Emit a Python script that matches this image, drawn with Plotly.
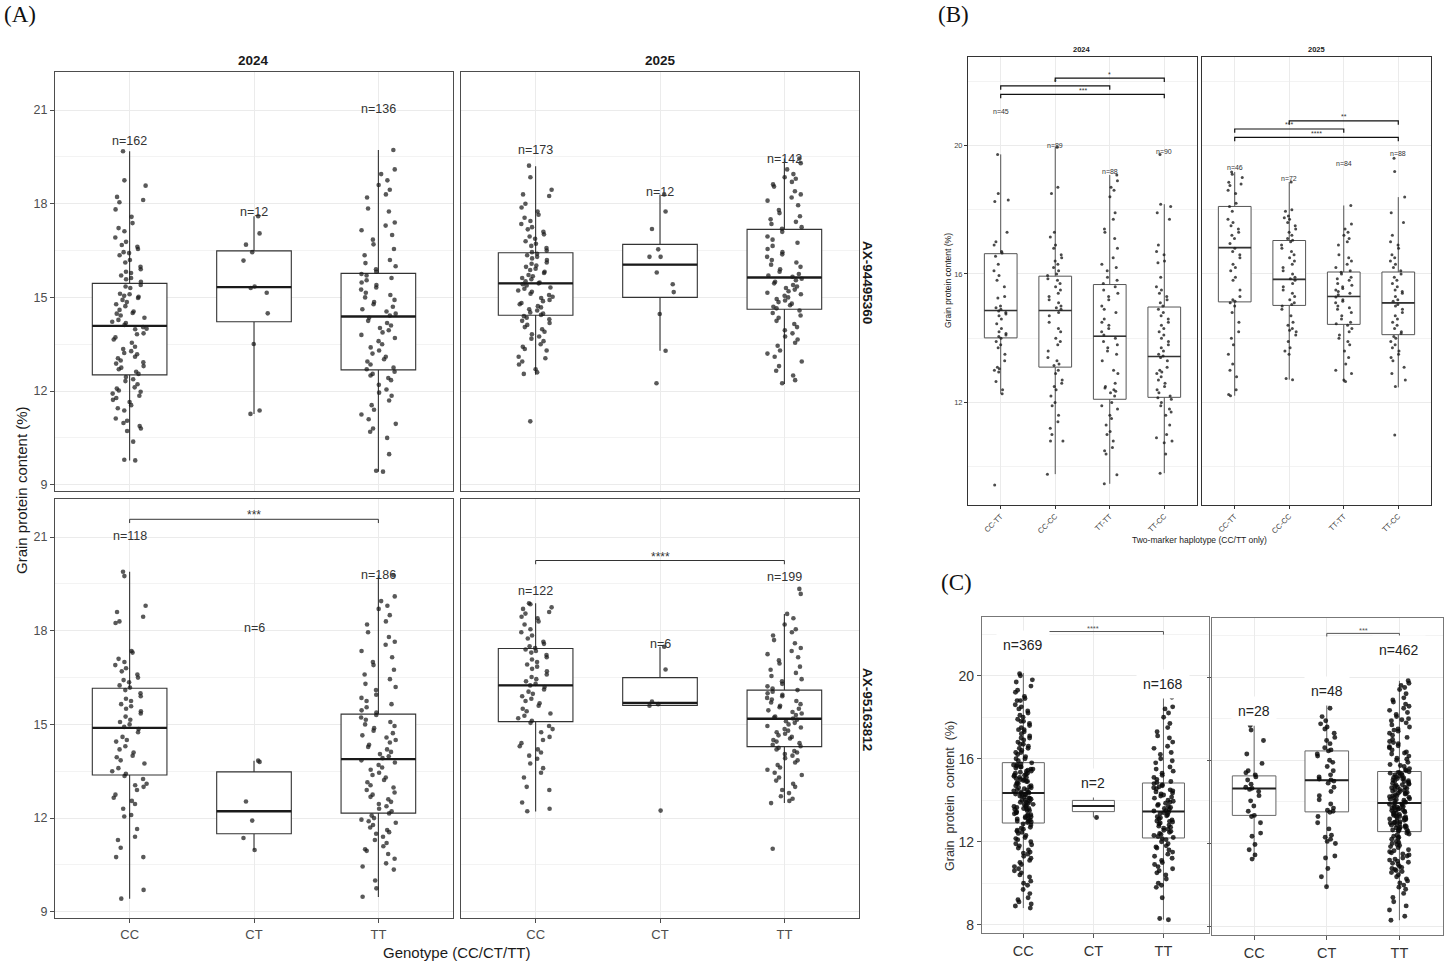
import plotly.graph_objects as go

# ======================= DATA =======================
# ---------- Panel A : single markers, genotype classes ----------
A_genotypes = ["CC", "CT", "TT"]
A_years = ["2024", "2025"]
A_markers = ["AX-94495360", "AX-95163812"]

# AX-94495360 / 2024
A1_24_q1 = [12.52, 14.22, 12.68]
A1_24_med = [14.09, 15.33, 14.39]
A1_24_q3 = [15.45, 16.49, 15.77]
A1_24_lo = [9.78, 11.27, 9.42]
A1_24_hi = [19.68, 17.60, 19.72]
A1_24_n = [162, 12, 136]
A1_24_label_y = [20.0, 17.75, 21.05]
A1_24_CC = [19.68, 18.75, 18.58, 18.22, 18.12, 18.05, 17.82, 17.58, 17.38, 17.22, 17.12, 16.92, 16.78, 16.68,
            16.62, 16.55, 16.45, 16.42, 16.35, 16.2, 16.12, 15.98, 15.9, 15.82, 15.78, 15.7, 15.62, 15.58, 15.5,
            15.4, 15.35, 15.3, 15.12, 15.1, 15.05, 15.02, 14.98, 14.92, 14.85, 14.78, 14.72, 14.6, 14.55, 14.5,
            14.48, 14.42, 14.35, 14.28, 14.22, 14.18, 14.12, 14.05, 14.0, 13.98, 13.85, 13.82, 13.72, 13.65,
            13.55, 13.42, 13.35, 13.28, 13.22, 13.18, 13.1, 13.05, 12.98, 12.92, 12.88, 12.8, 12.75, 12.7, 12.62,
            12.55, 12.45, 12.38, 12.32, 12.22, 12.12, 12.08, 12.02, 11.98, 11.92, 11.85, 11.78, 11.72, 11.65,
            11.55, 11.45, 11.38, 11.12, 11.05, 10.98, 10.88, 10.8, 10.72, 10.38, 9.8, 9.78]
A1_24_CT = [17.6, 17.05, 16.69, 16.45, 16.18, 15.35, 15.3, 15.15, 14.49, 13.51, 11.38, 11.27]
A1_24_TT = [19.72, 19.1, 18.95, 18.75, 18.6, 18.45, 18.3, 18.2, 17.85, 17.75, 17.4, 17.3, 17.15, 17.0, 16.85,
            16.7, 16.55, 16.35, 16.2, 16.1, 16.0, 15.9, 15.82, 15.75, 15.7, 15.62, 15.55, 15.48, 15.4, 15.32,
            15.25, 15.15, 15.08, 15.0, 14.92, 14.85, 14.78, 14.7, 14.62, 14.55, 14.48, 14.42, 14.35, 14.25,
            14.18, 14.1, 14.02, 13.95, 13.88, 13.8, 13.7, 13.6, 13.5, 13.4, 13.3, 13.2, 13.1, 13.02, 12.95,
            12.85, 12.75, 12.7, 12.62, 12.55, 12.5, 12.42, 12.35, 12.2, 12.05, 11.95, 11.85, 11.7, 11.55, 11.4,
            11.25, 11.1, 10.95, 10.8, 10.7, 10.5, 9.98, 9.45, 9.42]

# AX-94495360 / 2025
A1_25_q1 = [14.43, 15.00, 14.62]
A1_25_med = [15.45, 16.05, 15.64]
A1_25_q3 = [16.43, 16.70, 17.18]
A1_25_lo = [12.52, 13.29, 12.23]
A1_25_hi = [19.20, 18.30, 19.45]
A1_25_n = [173, 12, 142]
A1_25_label_y = [19.72, 18.39, 19.43]
A1_25_CC = [19.22, 18.85, 18.45, 18.3, 18.25, 18.0, 17.88, 17.75, 17.65, 17.55, 17.45, 17.35, 17.25, 17.18,
            17.1, 17.02, 16.95, 16.88, 16.8, 16.72, 16.65, 16.58, 16.5, 16.45, 16.4, 16.35, 16.3, 16.25, 16.2,
            16.12, 16.08, 16.02, 15.98, 15.92, 15.88, 15.82, 15.78, 15.72, 15.68, 15.62, 15.58, 15.52, 15.48,
            15.45, 15.42, 15.38, 15.32, 15.28, 15.22, 15.18, 15.12, 15.08, 15.02, 14.98, 14.92, 14.88, 14.82,
            14.78, 14.72, 14.68, 14.62, 14.58, 14.52, 14.48, 14.44, 14.4, 14.35, 14.3, 14.25, 14.18, 14.12,
            14.05, 13.98, 13.9, 13.82, 13.75, 13.68, 13.6, 13.5, 13.42, 13.35, 13.3, 13.1, 13.05, 12.95, 12.85,
            12.7, 12.6, 12.55, 11.03]
A1_25_CT = [18.3, 17.75, 17.19, 16.54, 16.3, 16.3, 15.8, 15.42, 15.17, 14.47, 13.29, 12.25]
A1_25_TT = [19.45, 19.3, 19.1, 18.95, 18.85, 18.8, 18.7, 18.62, 18.55, 18.4, 18.3, 18.2, 18.1, 17.95, 17.8,
            17.7, 17.6, 17.5, 17.42, 17.35, 17.25, 17.2, 17.1, 16.95, 16.85, 16.75, 16.65, 16.55, 16.45, 16.38,
            16.3, 16.2, 16.12, 16.05, 15.98, 15.9, 15.82, 15.75, 15.7, 15.66, 15.6, 15.55, 15.5, 15.45, 15.4,
            15.35, 15.3, 15.25, 15.2, 15.15, 15.1, 15.05, 15.0, 14.95, 14.9, 14.85, 14.8, 14.75, 14.7, 14.65,
            14.58, 14.5, 14.42, 14.35, 14.25, 14.15, 14.05, 13.95, 13.85, 13.75, 13.65, 13.55, 13.45, 13.3,
            13.2, 13.1, 12.95, 12.8, 12.65, 12.5, 12.35, 12.25]

# AX-95163812 / 2024
A2_24_q1 = [13.38, 11.50, 12.16]
A2_24_med = [14.89, 12.22, 13.89]
A2_24_q3 = [16.16, 13.48, 15.33]
A2_24_lo = [9.42, 10.98, 9.47]
A2_24_hi = [19.89, 13.84, 19.78]
A2_24_n = [118, 6, 186]
A2_24_label_y = [21.03, 18.1, 19.78]
A2_24_CC = [19.89, 19.75, 18.8, 18.6, 18.45, 18.3, 18.25, 17.35, 17.3, 17.1, 17.0, 16.9, 16.8, 16.7, 16.6,
            16.5, 16.42, 16.35, 16.25, 16.18, 16.1, 16.0, 15.9, 15.82, 15.75, 15.65, 15.58, 15.5, 15.42, 15.35,
            15.25, 15.15, 15.08, 15.0, 14.92, 14.85, 14.75, 14.6, 14.5, 14.45, 14.3, 14.2, 14.1, 14.0, 13.95,
            13.85, 13.75, 13.6, 13.5, 13.42, 13.35, 13.25, 13.1, 13.05, 13.0, 12.9, 12.75, 12.65, 12.55, 12.45,
            12.3, 12.1, 12.05, 11.65, 11.4, 11.3, 11.05, 10.75, 10.75, 9.7, 9.42]
A2_24_CT = [13.84, 13.8, 12.53, 11.92, 11.36, 10.98]
A2_24_TT = [19.78, 19.1, 18.95, 18.8, 18.7, 18.5, 18.3, 18.2, 17.95, 17.8, 17.65, 17.55, 17.35, 17.15, 17.0,
            16.9, 16.75, 16.6, 16.45, 16.3, 16.2, 16.1, 15.95, 15.85, 15.75, 15.65, 15.55, 15.45, 15.38, 15.3,
            15.22, 15.15, 15.08, 15.0, 14.95, 14.88, 14.8, 14.72, 14.65, 14.58, 14.5, 14.42, 14.35, 14.28,
            14.2, 14.12, 14.05, 13.98, 13.92, 13.85, 13.78, 13.7, 13.62, 13.55, 13.45, 13.38, 13.3, 13.22,
            13.15, 13.05, 12.98, 12.9, 12.82, 12.75, 12.68, 12.6, 12.52, 12.45, 12.38, 12.3, 12.22, 12.15,
            12.08, 12.0, 11.95, 11.9, 11.85, 11.78, 11.7, 11.62, 11.55, 11.5, 11.4, 11.3, 11.2, 11.1, 11.0,
            10.95, 10.85, 10.7, 10.55, 10.45, 10.35, 10.0, 9.75, 9.48]

# AX-95163812 / 2025
A2_25_q1 = [15.09, 15.61, 14.29]
A2_25_med = [16.25, 15.69, 15.18]
A2_25_q3 = [17.43, 16.50, 16.10]
A2_25_lo = [12.21, 15.60, 12.48]
A2_25_hi = [18.88, 17.49, 18.54]
A2_25_n = [122, 6, 199]
A2_25_label_y = [19.28, 17.58, 19.71]
A2_25_CC = [18.88, 18.85, 18.75, 18.7, 18.6, 18.55, 18.45, 18.4, 18.3, 18.2, 18.05, 17.95, 17.85, 17.75,
            17.65, 17.58, 17.5, 17.45, 17.4, 17.35, 17.3, 17.22, 17.15, 17.08, 17.0, 16.92, 16.85, 16.78, 16.7,
            16.6, 16.52, 16.45, 16.38, 16.3, 16.25, 16.2, 16.12, 16.05, 15.98, 15.9, 15.82, 15.75, 15.68, 15.6,
            15.5, 15.42, 15.35, 15.28, 15.2, 15.12, 15.05, 14.95, 14.85, 14.75, 14.6, 14.5, 14.4, 14.3, 14.2,
            14.1, 14.0, 13.9, 13.75, 13.6, 13.45, 13.3, 13.0, 12.9, 12.5, 12.3, 12.22]
A2_25_CT = [17.49, 16.76, 15.73, 15.65, 15.6, 12.24]
A2_25_TT = [19.34, 19.18, 18.54, 18.4, 18.2, 18.05, 17.95, 17.85, 17.7, 17.6, 17.45, 17.35, 17.25, 17.15,
            17.05, 16.95, 16.85, 16.75, 16.65, 16.55, 16.45, 16.38, 16.3, 16.22, 16.15, 16.1, 16.05, 16.0,
            15.95, 15.9, 15.85, 15.8, 15.75, 15.7, 15.65, 15.6, 15.55, 15.5, 15.45, 15.4, 15.35, 15.3, 15.25,
            15.22, 15.19, 15.15, 15.1, 15.05, 15.0, 14.95, 14.9, 14.85, 14.8, 14.75, 14.7, 14.65, 14.6, 14.55,
            14.5, 14.45, 14.4, 14.35, 14.3, 14.25, 14.2, 14.15, 14.1, 14.05, 14.0, 13.92, 13.85, 13.78, 13.7,
            13.62, 13.55, 13.45, 13.38, 13.3, 13.2, 13.1, 13.0, 12.9, 12.8, 12.7, 12.62, 12.55, 12.48, 11.02]

A2_24_brackets = [(1, 3, 21.57, "***")]
A2_25_brackets = [(1, 3, 20.25, "****")]

# ---------- Panel B : two-marker haplotypes ----------
B_haplotypes = ["CC-TT", "CC-CC", "TT-TT", "TT-CC"]
B_years = ["2024", "2025"]

B_24_q1 = [14.01, 13.10, 12.10, 12.16]
B_24_med = [14.86, 14.86, 14.06, 13.43]
B_24_q3 = [16.63, 15.93, 15.67, 14.97]
B_24_lo = [12.27, 9.77, 9.47, 9.80]
B_24_hi = [19.72, 19.94, 19.08, 18.17]
B_24_n = [45, 89, 88, 90]
B_24_label_y = [21.06, 20.0, 19.19, 19.8]
B_24_CCTT = [19.72, 18.5, 18.3, 18.25, 17.3, 17.0, 16.9, 16.7, 16.65, 16.55, 16.3, 16.1, 15.95, 15.8, 15.6,
             15.3, 15.25, 15.0, 14.95, 14.9, 14.85, 14.8, 14.75, 14.7, 14.6, 14.45, 14.3, 14.2, 14.15, 14.1,
             14.05, 14.0, 13.9, 13.8, 13.7, 13.5, 13.3, 13.1, 13.05, 13.0, 12.95, 12.65, 12.4, 12.27, 9.43]
B_24_CCCC = [19.94, 18.7, 18.5, 17.3, 17.15, 16.9, 16.8, 16.6, 16.5, 16.4, 16.3, 16.2, 16.1, 16.0, 15.95,
             15.85, 15.8, 15.7, 15.6, 15.5, 15.4, 15.3, 15.2, 15.1, 15.0, 14.95, 14.9, 14.8, 14.7, 14.5, 14.3,
             14.2, 14.0, 13.9, 13.8, 13.6, 13.4, 13.3, 13.2, 13.15, 13.0, 12.9, 12.7, 12.6, 12.5, 12.4, 12.2,
             12.0, 11.9, 11.6, 11.4, 11.2, 11.0, 10.8, 10.8, 9.77]
B_24_TTTT = [19.08, 18.9, 18.7, 18.6, 18.4, 17.9, 17.7, 17.4, 17.3, 17.1, 16.8, 16.5, 16.3, 16.2, 16.1, 15.9,
             15.8, 15.7, 15.6, 15.5, 15.4, 15.3, 15.2, 15.0, 14.9, 14.8, 14.6, 14.5, 14.4, 14.3, 14.2, 14.1,
             14.0, 13.9, 13.8, 13.7, 13.6, 13.5, 13.3, 13.0, 12.9, 12.6, 12.5, 12.45, 12.4, 12.35, 12.3, 12.2,
             12.0, 11.9, 11.8, 11.6, 11.5, 11.3, 11.1, 11.0, 10.8, 10.6, 10.5, 10.4, 9.75, 9.47]
B_24_TTCC = [19.72, 18.17, 18.1, 17.9, 17.7, 16.9, 16.7, 16.6, 16.4, 16.35, 15.9, 15.6, 15.5, 15.4, 15.3,
             15.2, 15.1, 15.0, 14.9, 14.8, 14.7, 14.6, 14.5, 14.4, 14.3, 14.2, 14.1, 14.0, 13.9, 13.8, 13.7,
             13.6, 13.5, 13.45, 13.4, 13.3, 13.1, 13.0, 12.95, 12.9, 12.8, 12.7, 12.6, 12.5, 12.4, 12.3, 12.2,
             12.15, 12.1, 12.0, 11.9, 11.8, 11.7, 11.6, 11.3, 11.0, 10.9, 10.8, 10.75, 10.4, 9.8]

B_25_q1 = [15.13, 15.02, 14.43, 14.11]
B_25_med = [16.82, 15.83, 15.30, 15.10]
B_25_q3 = [18.10, 17.04, 16.06, 16.06]
B_25_lo = [12.21, 12.71, 12.63, 12.47]
B_25_hi = [19.17, 18.86, 18.13, 18.39]
B_25_n = [46, 72, 84, 88]
B_25_label_y = [19.32, 18.97, 19.43, 19.74]
B_25_CCTT = [19.17, 19.1, 19.0, 18.85, 18.8, 18.75, 18.6, 18.5, 18.2, 18.1, 17.95, 17.7, 17.6, 17.5, 17.4,
             17.3, 17.2, 17.1, 16.95, 16.8, 16.7, 16.6, 16.5, 16.3, 16.2, 16.1, 15.9, 15.8, 15.5, 15.3, 15.2,
             15.15, 15.1, 15.0, 14.8, 14.5, 14.2, 14.0, 13.8, 13.5, 13.2, 13.0, 12.8, 12.4, 12.25, 12.21]
B_25_CCCC = [18.86, 18.0, 17.95, 17.8, 17.75, 17.7, 17.6, 17.5, 17.4, 17.3, 17.2, 17.1, 17.05, 17.0, 16.9,
             16.8, 16.7, 16.6, 16.5, 16.4, 16.3, 16.2, 16.1, 16.0, 15.9, 15.85, 15.8, 15.7, 15.6, 15.5, 15.4,
             15.3, 15.2, 15.1, 15.05, 15.0, 14.9, 14.7, 14.5, 14.4, 14.3, 14.25, 14.2, 14.1, 13.9, 13.7, 13.6,
             13.5, 12.75, 12.71]
B_25_TTTT = [18.13, 17.55, 17.4, 17.3, 17.2, 17.1, 17.0, 16.9, 16.6, 16.5, 16.4, 16.3, 16.2, 16.1, 16.05,
             16.0, 15.9, 15.85, 15.8, 15.7, 15.65, 15.6, 15.55, 15.5, 15.45, 15.4, 15.35, 15.28, 15.2, 15.15,
             15.1, 15.0, 14.95, 14.9, 14.8, 14.7, 14.6, 14.5, 14.45, 14.4, 14.3, 14.2, 14.1, 14.0, 13.9, 13.8,
             13.6, 13.4, 13.2, 13.0, 12.9, 12.7, 12.65]
B_25_TTCC = [19.6, 19.19, 18.39, 17.9, 17.6, 17.2, 17.0, 16.9, 16.8, 16.6, 16.5, 16.4, 16.3, 16.2, 16.1,
             16.0, 15.9, 15.8, 15.7, 15.6, 15.5, 15.45, 15.4, 15.3, 15.2, 15.15, 15.05, 15.0, 14.9, 14.8, 14.7,
             14.6, 14.5, 14.4, 14.3, 14.2, 14.15, 14.05, 14.0, 13.9, 13.8, 13.7, 13.6, 13.5, 13.4, 13.3, 13.1,
             12.9, 12.7, 12.5, 10.99]

B_24_brackets = [(2, 4, 22.09, "*"), (1, 3, 21.85, "*"), (1, 4, 21.59, "***")]
B_25_brackets = [(2, 4, 20.76, "**"), (1, 3, 20.51, "***"), (1, 4, 20.25, "****")]

# ---------- Panel C : pooled genotypes, two markers ----------
C_genotypes = ["CC", "CT", "TT"]

C1_q1 = [12.90, 13.45, 12.18]
C1_med = [14.35, 13.72, 13.46]
C1_q3 = [15.81, 13.99, 14.83]
C1_lo = [8.80, 13.17, 8.24]
C1_hi = [20.13, 14.27, 18.96]
C1_n = [369, 2, 168]
C1_label_y = [21.49, 14.83, 19.6]
C1_CC = [20.1, 20.0, 19.8, 19.7, 19.5, 19.3, 19.2, 19.0, 18.9, 18.8, 18.8, 18.6, 18.5, 18.4, 18.3, 18.2,
         18.1, 18.0, 17.9, 17.8, 17.8, 17.7, 17.6, 17.5, 17.4, 17.4, 17.3, 17.2, 17.1, 17.0, 17.0, 16.9,
         16.8, 16.7, 16.7, 16.6, 16.5, 16.5, 16.4, 16.3, 16.3, 16.2, 16.1, 16.0, 16.0, 15.9,
         15.8, 15.7, 15.7, 15.6, 15.6, 15.5, 15.5, 15.4, 15.4, 15.3, 15.3, 15.2, 15.2, 15.1, 15.1, 15.0,
         15.0, 14.9, 14.9, 14.8, 14.8, 14.7, 14.7, 14.6, 14.6, 14.5, 14.5, 14.4, 14.4, 14.3, 15.75, 15.45,
         15.25, 15.05, 14.85, 14.65, 14.45, 14.35, 15.55, 15.15, 14.95, 14.55, 15.65, 15.35,
         14.3, 14.2, 14.2, 14.1, 14.1, 14.0, 14.0, 13.9, 13.9, 13.8, 13.8, 13.7, 13.7, 13.6, 13.6, 13.5,
         13.5, 13.4, 13.4, 13.3, 13.3, 13.2, 13.2, 13.1, 13.1, 13.0, 13.0, 12.95, 14.25, 14.05, 13.85,
         13.65, 13.45, 13.25, 13.05, 14.15, 13.95, 13.75, 13.55, 13.35, 13.15, 12.92, 14.32, 13.58,
         12.85, 12.8, 12.7, 12.65, 12.6, 12.5, 12.45, 12.4, 12.3, 12.2, 12.15, 12.1, 12.0, 11.9, 11.85,
         11.8, 11.7, 11.6, 11.5, 11.45, 11.4, 11.3, 11.2, 11.1, 11.0, 10.9, 10.8, 10.7, 10.6, 10.5, 10.4,
         10.3, 10.1, 10.0, 9.9, 9.7, 9.5, 9.3, 9.2, 9.1, 9.0, 8.9, 8.8, 12.55]
C1_CT = [14.27, 13.17]
C1_TT = [18.96, 18.5, 18.4, 18.2, 18.0, 17.7, 17.5, 17.3, 17.1, 17.0, 16.8, 16.6, 16.5, 16.3, 16.2, 16.0,
         15.9, 15.8, 15.6, 15.5, 15.4, 15.3, 15.2, 15.1, 15.0, 14.9, 14.85,
         14.8, 14.75, 14.7, 14.6, 14.55, 14.5, 14.4, 14.35, 14.3, 14.2, 14.15, 14.1, 14.0, 13.95, 13.9,
         13.8, 13.75, 13.7, 13.65, 13.6, 13.55, 13.5, 13.48, 14.45, 14.25, 13.85, 14.65,
         13.4, 13.35, 13.3, 13.25, 13.2, 13.1, 13.05, 13.0, 12.95, 12.9, 12.85, 12.8, 12.7, 12.65, 12.6,
         12.55, 12.5, 12.45, 12.4, 12.35, 12.3, 12.25, 12.2, 13.15, 12.75, 13.42, 12.98,
         12.15, 12.1, 12.0, 11.9, 11.8, 11.75, 11.7, 11.6, 11.5, 11.4, 11.3, 11.2, 11.1, 11.0, 10.9, 10.8,
         10.7, 10.6, 10.5, 10.4, 10.2, 10.0, 9.9, 9.8, 9.3, 8.3, 8.24]

C2_q1 = [13.35, 13.52, 12.57]
C2_med = [14.64, 15.04, 13.95]
C2_q3 = [15.25, 16.45, 15.46]
C2_lo = [11.25, 9.92, 8.31]
C2_hi = [17.67, 18.75, 19.82]
C2_n = [28, 48, 462]
C2_label_y = [18.38, 19.34, 21.28]
C2_CC = [17.67, 17.45, 16.95, 16.3, 15.85, 15.5, 15.4, 15.3, 15.2, 15.05, 14.85, 14.7, 14.65, 14.6, 14.5,
         14.3, 14.05, 13.8, 13.55, 13.35, 13.3, 13.0, 12.5, 12.35, 11.95, 11.7, 11.45, 11.25]
C2_CT = [18.75, 18.5, 18.1, 17.9, 17.75, 17.6, 17.5, 17.3, 17.1, 16.95, 16.8, 16.6, 16.5, 16.45, 16.3, 16.2,
         16.0, 15.9, 15.7, 15.5, 15.3, 15.2, 15.1, 15.05, 15.0, 14.9, 14.7, 14.5, 14.3, 14.1, 13.9, 13.7,
         13.6, 13.55, 13.5, 13.3, 13.0, 12.7, 12.4, 12.3, 12.2, 12.1, 12.0, 11.4, 11.3, 10.8, 10.4, 9.92]
C2_TT = [19.82, 19.7, 19.6, 19.5, 19.4, 19.2, 19.0, 18.9, 18.8, 18.7, 18.6, 18.5, 18.4, 18.3, 18.2, 18.1,
         18.0, 17.9, 17.8, 17.7, 17.6, 17.5, 17.4, 17.3, 17.2, 17.1, 17.0, 16.9, 16.8, 16.7, 16.6, 16.5,
         16.4, 16.3, 16.2, 16.1, 16.0, 15.9, 15.8, 15.7, 15.6, 15.5, 17.45, 16.85, 16.35, 16.05, 15.75,
         15.55, 17.95, 16.65,
         15.45, 15.4, 15.35, 15.3, 15.25, 15.2, 15.15, 15.1, 15.05, 15.0, 14.95, 14.9, 14.85, 14.8, 14.75,
         14.7, 14.65, 14.6, 14.55, 14.5, 14.45, 14.4, 14.35, 14.3, 14.25, 14.2, 14.15, 14.1, 14.05, 14.0,
         13.98, 15.42, 15.28, 15.12, 14.98, 14.82, 14.68, 14.52, 14.38, 14.22, 14.08, 15.38, 15.02, 14.72,
         14.42, 14.12, 15.18, 14.88, 14.58, 14.28,
         13.9, 13.85, 13.8, 13.75, 13.7, 13.65, 13.6, 13.55, 13.5, 13.45, 13.4, 13.35, 13.3, 13.25, 13.2,
         13.15, 13.1, 13.05, 13.0, 12.95, 12.9, 12.85, 12.8, 12.75, 12.7, 12.65, 12.6, 13.92, 13.78, 13.62,
         13.48, 13.32, 13.18, 13.02, 12.88, 12.72, 12.62, 13.88, 13.58, 13.28, 12.98, 12.68, 13.72, 13.42,
         13.12, 12.82, 13.68, 13.22, 12.78, 12.58,
         12.5, 12.4, 12.3, 12.2, 12.1, 12.0, 11.9, 11.8, 11.7, 11.6, 11.5, 11.4, 11.3, 11.2, 11.1, 11.0,
         10.9, 10.8, 10.7, 10.6, 10.5, 10.4, 10.3, 10.2, 10.1, 10.0, 9.9, 9.8, 9.6, 9.4, 9.2, 9.0, 8.8,
         8.5, 8.31, 12.45, 12.25, 12.05, 11.85, 11.65, 11.45, 11.25, 11.05, 10.85, 10.65, 12.35, 11.95,
         11.55, 11.15, 10.75]

C1_brackets = [(1, 3, 22.13, "****")]
C2_brackets = [(2, 3, 22.10, "***")]

# ======================= STYLE / LAYOUT =======================
W, H = 1446, 968
FONT = "Liberation Sans, Arial, Helvetica, sans-serif"
NARROW = "Liberation Sans Narrow, Arial Narrow, Liberation Sans, sans-serif"
SERIF = "Liberation Serif, Times New Roman, serif"

ST = {
    "A": dict(bw=0.6, boxc="#333333", boxw=1.1, medc="#1a1a1a", medw=2.4, jit=0.14, ms=4.6,
              mc="rgba(25,25,25,0.72)", grid="#EBEBEB", minor="#F3F3F3", border="#4D4D4D", borderw=1.3,
              dtick=3, mdtick=1.5, ticklen=4, tickc="#4D4D4D", tickangle=0,
              ytickfont=dict(size=12.5, color="#4D4D4D", family=FONT),
              xtickfont=dict(size=13, color="#4D4D4D", family=FONT),
              nfont=dict(size=12.5, color="#333333", family=FONT), nbg=None, nbpad=0,
              brc="#333333", brw=1.0, brtick=0.12, brfont=dict(size=12, color="#333333", family=FONT),
              bryshift=4),
    "B": dict(bw=0.6, boxc="#555555", boxw=1.0, medc="#333333", medw=1.6, jit=0.15, ms=3.0,
              mc="rgba(30,30,30,0.8)", grid="#EBEBEB", minor="#F3F3F3", border="#333333", borderw=1.0,
              dtick=4, mdtick=2, ticklen=3, tickc="#333333", tickangle=-45,
              ytickfont=dict(size=7.5, color="#444444", family=FONT),
              xtickfont=dict(size=7.5, color="#444444", family=FONT),
              nfont=dict(size=7, color="#333333", family=FONT), nbg=None, nbpad=0,
              brc="#111111", brw=1.2, brtick=0.12, brfont=dict(size=7, color="#333333", family=FONT),
              bryshift=4),
    "C": dict(bw=0.6, boxc="#666666", boxw=1.0, medc="#222222", medw=2.0, jit=0.14, ms=4.9,
              mc="rgba(10,10,10,0.82)", grid="#EBEBEB", minor="#F3F3F3", border="#777777", borderw=1.3,
              dtick=4, mdtick=2, ticklen=4, tickc="#555555", tickangle=0,
              ytickfont=dict(size=14, color="#333333", family=NARROW),
              xtickfont=dict(size=14.5, color="#333333", family=NARROW),
              nfont=dict(size=14, color="#222222", family=NARROW), nbg="white", nbpad=6,
              brc="#555555", brw=1.0, brtick=0.15, brfont=dict(size=7.5, color="#555555", family=FONT),
              bryshift=3),
}

facets = [
    dict(style="A", cats=A_genotypes, q1=A1_24_q1, med=A1_24_med, q3=A1_24_q3, lo=A1_24_lo, hi=A1_24_hi,
         pts=[A1_24_CC, A1_24_CT, A1_24_TT], ns=A1_24_n, ny=A1_24_label_y, br=[],
         box=(55, 453, 72, 491), xr=(0.4, 3.6), yr=(8.8, 22.22), xlab=False, ylab=True, yticks=True),
    dict(style="A", cats=A_genotypes, q1=A1_25_q1, med=A1_25_med, q3=A1_25_q3, lo=A1_25_lo, hi=A1_25_hi,
         pts=[A1_25_CC, A1_25_CT, A1_25_TT], ns=A1_25_n, ny=A1_25_label_y, br=[],
         box=(461, 859, 72, 491), xr=(0.4, 3.6), yr=(8.8, 22.22), xlab=False, ylab=False, yticks=False),
    dict(style="A", cats=A_genotypes, q1=A2_24_q1, med=A2_24_med, q3=A2_24_q3, lo=A2_24_lo, hi=A2_24_hi,
         pts=[A2_24_CC, A2_24_CT, A2_24_TT], ns=A2_24_n, ny=A2_24_label_y, br=A2_24_brackets,
         box=(55, 453, 499, 918), xr=(0.4, 3.6), yr=(8.8, 22.22), xlab=True, ylab=True, yticks=True),
    dict(style="A", cats=A_genotypes, q1=A2_25_q1, med=A2_25_med, q3=A2_25_q3, lo=A2_25_lo, hi=A2_25_hi,
         pts=[A2_25_CC, A2_25_CT, A2_25_TT], ns=A2_25_n, ny=A2_25_label_y, br=A2_25_brackets,
         box=(461, 859, 499, 918), xr=(0.4, 3.6), yr=(8.8, 22.22), xlab=True, ylab=False, yticks=False),
    dict(style="B", cats=B_haplotypes, q1=B_24_q1, med=B_24_med, q3=B_24_q3, lo=B_24_lo, hi=B_24_hi,
         pts=[B_24_CCTT, B_24_CCCC, B_24_TTTT, B_24_TTCC], ns=B_24_n, ny=B_24_label_y, br=B_24_brackets,
         box=(968, 1197, 57, 505), xr=(0.4, 4.6), yr=(8.81, 22.75), xlab=True, ylab=True, yticks=True),
    dict(style="B", cats=B_haplotypes, q1=B_25_q1, med=B_25_med, q3=B_25_q3, lo=B_25_lo, hi=B_25_hi,
         pts=[B_25_CCTT, B_25_CCCC, B_25_TTTT, B_25_TTCC], ns=B_25_n, ny=B_25_label_y, br=B_25_brackets,
         box=(1202, 1431, 57, 505), xr=(0.4, 4.6), yr=(8.81, 22.75), xlab=True, ylab=False, yticks=False),
    dict(style="C", cats=C_genotypes, q1=C1_q1, med=C1_med, q3=C1_q3, lo=C1_lo, hi=C1_hi,
         pts=[C1_CC, C1_CT, C1_TT], ns=C1_n, ny=C1_label_y, br=C1_brackets,
         box=(982, 1209, 617, 933), xr=(0.41, 3.65), yr=(7.6, 22.83), xlab=True, ylab=True, yticks=True),
    dict(style="C", cats=C_genotypes, q1=C2_q1, med=C2_med, q3=C2_q3, lo=C2_lo, hi=C2_hi,
         pts=[C2_CC, C2_CT, C2_TT], ns=C2_n, ny=C2_label_y, br=C2_brackets,
         box=(1212, 1443, 618, 935), xr=(0.42, 3.6), yr=(7.6, 22.84), xlab=True, ylab=False, yticks=True),
]

fig = go.Figure()
axes = {}
annotations = []
shapes = []
# deterministic, irregular horizontal spread (quadratic Weyl sequence) used for the jitter offsets
ALPHA1, ALPHA2 = 0.7548776662466927, 0.5698402909980532


def spread(i, p):
    return ((i * ALPHA1) + (i * i) * ALPHA2 * 0.5 + 0.31 * p) % 1.0


for k, f in enumerate(facets, start=1):
    s = ST[f["style"]]
    sx = "" if k == 1 else str(k)
    xa, ya = "x" + sx, "y" + sx
    pos = list(range(1, len(f["cats"]) + 1))

    fig.add_trace(go.Box(x=pos, q1=f["q1"], median=f["med"], q3=f["q3"],
                         lowerfence=f["lo"], upperfence=f["hi"], width=s["bw"],
                         fillcolor="white", line=dict(color=s["boxc"], width=s["boxw"]),
                         whiskerwidth=0, boxpoints=False, hoverinfo="skip", showlegend=False,
                         xaxis=xa, yaxis=ya))
    mx, my = [], []
    for p, m in zip(pos, f["med"]):
        mx += [p - s["bw"] / 2, p + s["bw"] / 2, None]
        my += [m, m, None]
    fig.add_trace(go.Scatter(x=mx, y=my, mode="lines", line=dict(color=s["medc"], width=s["medw"]),
                             hoverinfo="skip", showlegend=False, xaxis=xa, yaxis=ya))
    jx, jy = [], []
    for p, vals in zip(pos, f["pts"]):
        for i, v in enumerate(vals):
            jx.append(p + s["jit"] * (2 * spread(i, p) - 1))
            jy.append(v)
    fig.add_trace(go.Scatter(x=jx, y=jy, mode="markers",
                             marker=dict(size=s["ms"], color=s["mc"], line=dict(width=0)),
                             hoverinfo="skip", showlegend=False, xaxis=xa, yaxis=ya))

    x0, x1, y0, y1 = f["box"]
    axes["xaxis" + sx] = dict(
        domain=[x0 / W, x1 / W], range=list(f["xr"]), anchor=ya,
        tickmode="array", tickvals=pos, ticktext=f["cats"], showticklabels=f["xlab"],
        ticks="outside" if f["xlab"] else "", ticklen=s["ticklen"], tickcolor=s["tickc"], tickwidth=1,
        tickfont=s["xtickfont"], tickangle=s["tickangle"],
        showgrid=True, gridcolor=s["grid"], gridwidth=1, zeroline=False,
        showline=True, mirror=True, linecolor=s["border"], linewidth=s["borderw"], fixedrange=True)
    axes["yaxis" + sx] = dict(
        domain=[1 - y1 / H, 1 - y0 / H], range=list(f["yr"]), anchor=xa,
        tickmode="linear", tick0=0, dtick=s["dtick"], showticklabels=f["ylab"],
        ticks="outside" if f["yticks"] else "", ticklen=s["ticklen"], tickcolor=s["tickc"], tickwidth=1,
        tickfont=s["ytickfont"],
        minor=dict(tickmode="linear", tick0=0, dtick=s["mdtick"], showgrid=True,
                   gridcolor=s["minor"], gridwidth=1, ticks=""),
        showgrid=True, gridcolor=s["grid"], gridwidth=1, zeroline=False,
        showline=True, mirror=True, linecolor=s["border"], linewidth=s["borderw"], fixedrange=True)

    # significance brackets
    for (b1, b2, by, lab) in f["br"]:
        t = s["brtick"]
        shapes.append(dict(type="path", xref=xa, yref=ya,
                           path=f"M {b1},{by - t} L {b1},{by} L {b2},{by} L {b2},{by - t}",
                           line=dict(color=s["brc"], width=s["brw"])))
        annotations.append(dict(x=(b1 + b2) / 2, y=by, xref=xa, yref=ya, text=lab, showarrow=False,
                                font=s["brfont"], yanchor="middle", yshift=s["bryshift"]))
    # n labels
    for p, n, yy in zip(pos, f["ns"], f["ny"]):
        ann = dict(x=p, y=yy, xref=xa, yref=ya, text=f"n={n}", showarrow=False, font=s["nfont"],
                   xanchor="center", yanchor="middle")
        if s["nbg"]:
            ann.update(bgcolor=s["nbg"], borderpad=s["nbpad"])
        annotations.append(ann)


def paper(px, py, text, size, family=FONT, color="#1a1a1a", angle=0, xanchor="center"):
    return dict(x=px / W, y=1 - py / H, xref="paper", yref="paper", text=text, showarrow=False,
                font=dict(size=size, family=family, color=color), textangle=angle,
                xanchor=xanchor, yanchor="middle")


# panel letters
annotations += [paper(20, 14, "(A)", 23, SERIF, "#111111"),
                paper(953, 14, "(B)", 23, SERIF, "#111111"),
                paper(956, 582, "(C)", 23, SERIF, "#111111")]
# panel A strips and titles
annotations += [paper(254, 61, "<b>" + A_years[0] + "</b>", 13.5),
                paper(660, 61, "<b>" + A_years[1] + "</b>", 13.5),
                paper(868, 282, "<b>" + A_markers[0] + "</b>", 13.5, angle=90),
                paper(868, 709, "<b>" + A_markers[1] + "</b>", 13.5, angle=90),
                paper(457, 952, "Genotype (CC/CT/TT)", 15),
                paper(21, 490, "Grain protein content (%)", 15, angle=-90)]
# panel B strips and titles
annotations += [paper(1082, 50, "<b>" + B_years[0] + "</b>", 7.5),
                paper(1316, 50, "<b>" + B_years[1] + "</b>", 7.5),
                paper(1199, 540, "Two-marker haplotype (CC/TT only)", 8.5),
                paper(948, 281, "Grain protein content (%)", 8.5, angle=-90)]
# panel C title
annotations += [paper(950, 796, "Grain\u00a0 protein\u00a0 content\u00a0 (%)", 12.5, color="#333333",
                      angle=-90)]

fig.update_layout(width=W, height=H, margin=dict(l=0, r=0, t=0, b=0),
                  paper_bgcolor="white", plot_bgcolor="white", showlegend=False,
                  annotations=annotations, shapes=shapes, **axes)

fig.write_html("out.html")
